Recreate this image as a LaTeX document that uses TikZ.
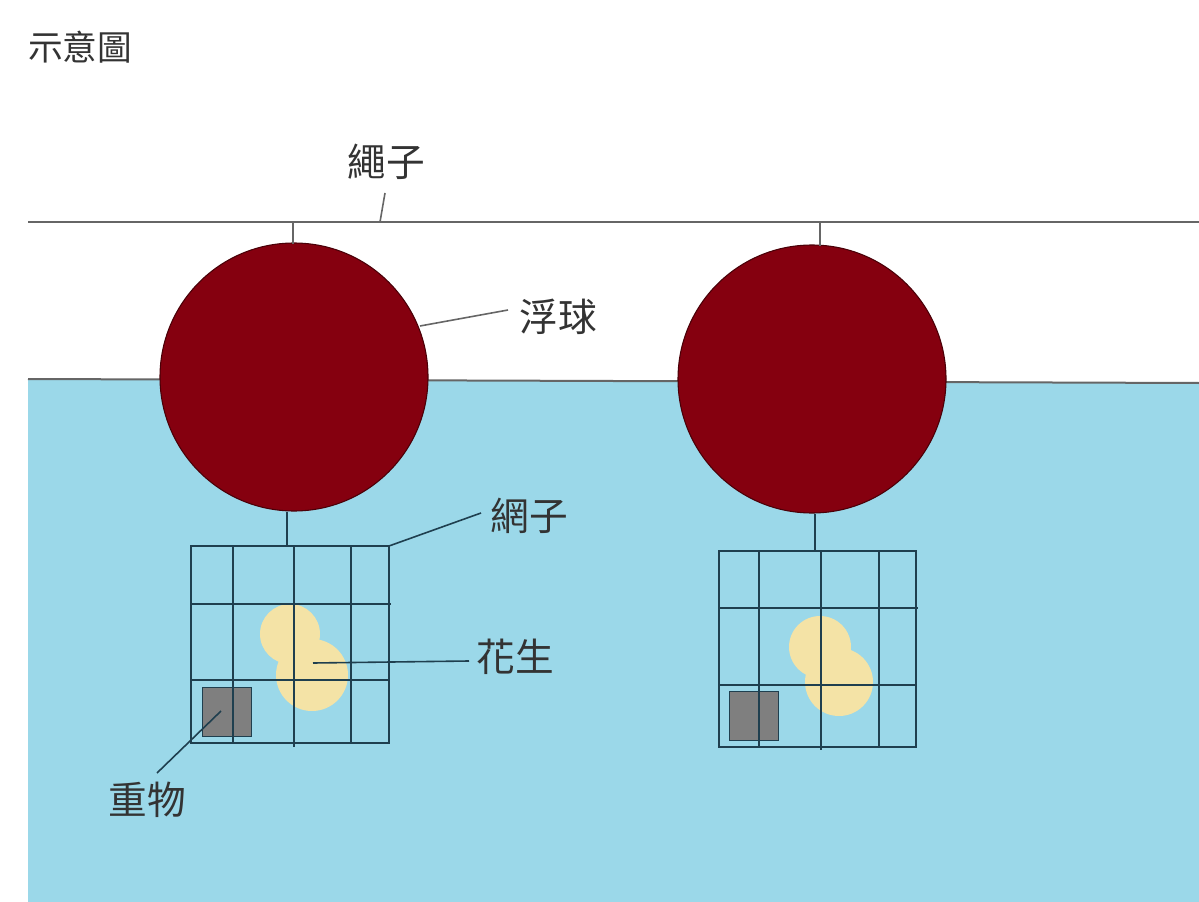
\documentclass[tikz,border=0pt]{standalone}
\usepackage{fontspec}
\setmainfont{Noto Sans CJK TC}
\newfontfamily\cjk{Noto Sans CJK TC}
\definecolor{water}{HTML}{9BD8E9}
\definecolor{buoy}{HTML}{85000F}
\definecolor{buoyline}{HTML}{4A0008}
\definecolor{peanut}{HTML}{F4E3A6}
\definecolor{weight}{HTML}{7F7F7F}
\definecolor{netc}{HTML}{1F3F4F}
\definecolor{txt}{HTML}{333333}
\definecolor{ropec}{HTML}{666666}
\tikzset{
  lbl/.style={font=\cjk\fontsize{29pt}{32pt}\selectfont, text=txt, inner sep=0pt},
  leader/.style={draw=netc, line width=1.2pt},
  leaderw/.style={draw=ropec, line width=1.2pt},
  netline/.style={draw=netc, line width=1.3pt},
  ball/.style={circle, fill=buoy, draw=buoyline, line width=0.8pt, minimum size=268*0.75pt, inner sep=0pt},
  wbox/.style={fill=weight, draw=netc, line width=1pt}
}
\begin{document}
\begin{tikzpicture}[x=0.75pt,y=-0.75pt]
\useasboundingbox (0,0) rectangle (1199,902);
\fill[white] (0,0) rectangle (1199,902);
% water
\fill[water] (28,379) -- (1199,383) -- (1199,902) -- (28,902) -- cycle;
\draw[ropec, line width=1.5pt] (28,379) -- (1199,383);
% rope
\coordinate (ropeL) at (28,222);
\coordinate (ropeR) at (1199,222);
\draw[ropec, line width=1.5pt] (ropeL) -- (ropeR);
\coordinate (t1) at (293,222);
\coordinate (t2) at (820,222);
% buoys
\node[ball] (b1) at (294,377) {};
\node[ball] (b2) at (812,379) {};
\draw[ropec, line width=1.5pt] (t1) -- ([yshift=-1pt]t1 |- b1.north);
\draw[ropec, line width=1.5pt] (t2) -- (820,246);
% peanuts
\fill[peanut] (290,634) circle (30);
\fill[peanut] (312,675) circle (36);
\fill[peanut] (820,647) circle (31);
\fill[peanut] (839,682) circle (34);
% weights
\node[wbox, minimum width=49*0.75pt, minimum height=49*0.75pt, inner sep=0pt] (w1) at (227,712) {};
\node[wbox, minimum width=49*0.75pt, minimum height=49*0.75pt, inner sep=0pt] (w2) at (754,716) {};
% net 1
\coordinate (n1top) at (287,546);
\draw[netline] (191,546) rectangle (389,743);
\draw[netline] (233,546) -- (233,743);
\draw[netline] (294,546) -- (294,747);
\draw[netline] (351,546) -- (351,743);
\draw[netline] (191,604) -- (391,604);
\draw[netline] (191,680) -- (389,680);
\draw[netline] (b1.south -| n1top) -- (n1top);
% net 2
\coordinate (n2top) at (815,551);
\draw[netline] (719,551) rectangle (916,747);
\draw[netline] (759,551) -- (759,747);
\draw[netline] (821,551) -- (821,750);
\draw[netline] (879,551) -- (879,747);
\draw[netline] (719,608) -- (918,608);
\draw[netline] (719,685) -- (916,685);
\draw[netline] (b2.south -| n2top) -- (n2top);
% labels
\node[lbl, font=\cjk\fontsize{26pt}{30pt}\selectfont, anchor=west] (title) at (28,47) {示意圖};
\node[lbl] (rope) at (386,162) {繩子};
\node[lbl] (float) at (558,317) {浮球};
\node[lbl] (net) at (529,516) {網子};
\node[lbl] (pnut) at (515,657) {花生};
\node[lbl] (wt) at (147,800) {重物};
% leaders
\coordinate (ropeA) at (380,222);
\draw[leaderw] (ropeA) -- (385,193);
\coordinate (floatA) at (420,326);
\draw[leaderw] (floatA) -- (508,310);
\coordinate (netA) at (389,546);
\draw[leader] (netA) -- (481,513);
\coordinate (pA) at (313,663);
\draw[leader] (pA) -- (469,661);
\coordinate (wA) at (221,711);
\draw[leader] (wA) -- (157,773);
\end{tikzpicture}
\end{document}
